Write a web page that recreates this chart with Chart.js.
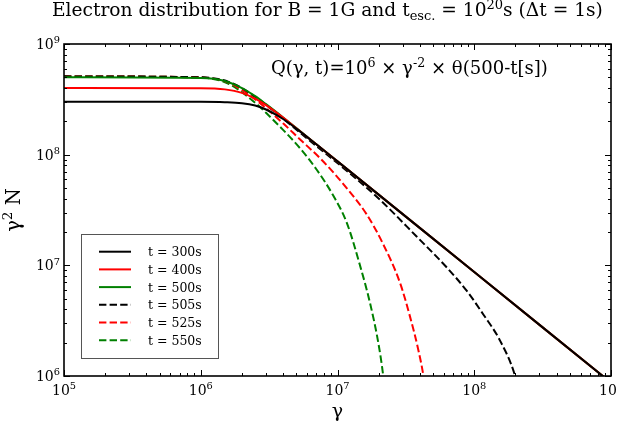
<!DOCTYPE html>
<html><head><meta charset="utf-8">
<script src="https://cdn.jsdelivr.net/npm/chart.js@4/dist/chart.umd.min.js"></script>
<style>html,body{margin:0;padding:0;background:#fff}canvas{display:block}</style>
</head><body>
<canvas id="c" width="617" height="423"></canvas>
<script>
// ---- data ----
const xTickExp = [5, 6, 7, 8, 9];
const yTickExp = [6, 7, 8, 9];
const seriesLabels = ['t = 300s', 't = 400s', 't = 500s', 't = 505s', 't = 525s', 't = 550s'];

const gammaSolid = [1e5, 1e6, 1.5e6, 2e6, 2.5e6, 3e6, 4e6, 5e6, 7e6, 1e7, 1e8, 1e9];
const n300 = [3.0e8, 3.0e8, 2.98e8, 2.92e8, 2.78e8, 2.56e8, 2.1e8, 1.72e8, 1.24e8, 8.7e7, 8.7e6, 8.7e5];
const n400 = [4.0e8, 3.98e8, 3.89e8, 3.62e8, 3.21e8, 2.8e8, 2.16e8, 1.73e8, 1.24e8, 8.7e7, 8.7e6, 8.7e5];
const n500 = [5.0e8, 4.93e8, 4.63e8, 4.0e8, 3.38e8, 2.86e8, 2.17e8, 1.74e8, 1.24e8, 8.7e7, 8.7e6, 8.7e5];

const gamma505 = [1e5, 1e6, 1.3e6, 1.6e6, 2e6, 2.5e6, 3e6, 4e6, 6e6, 1.23e7, 2.05e7, 3.79e7, 6.28e7, 8.8e7, 1.165e8, 1.54e8, 1.99e8, 2.1e8];
const n505 = [5.1e8, 5.0e8, 4.85e8, 4.55e8, 4.0e8, 3.33e8, 2.82e8, 2.12e8, 1.4e8, 6.79e7, 3.9e7, 1.82e7, 9.6e6, 5.9e6, 3.6e6, 2.1e6, 1.0e6, 7.5e5];

const gamma525 = [1e5, 1e6, 1.3e6, 1.6e6, 2e6, 2.5e6, 3e6, 4e6, 5.33e6, 7.45e6, 1.1e7, 1.63e7, 2.16e7, 2.87e7, 3.39e7, 3.9e7, 4.25e7, 4.45e7];
const n525 = [5.1e8, 4.99e8, 4.82e8, 4.48e8, 3.85e8, 3.16e8, 2.63e8, 1.92e8, 1.37e8, 9.3e7, 5.45e7, 2.9e7, 1.55e7, 6.9e6, 3.44e6, 1.72e6, 1.0e6, 6.5e5];

const gamma550 = [1e5, 1e6, 1.3e6, 1.6e6, 2e6, 2.5e6, 3e6, 4e6, 5.33e6, 7.05e6, 9.33e6, 1.17e7, 1.46e7, 1.73e7, 1.99e7, 2.16e7, 2.25e7];
const n550 = [5.1e8, 4.98e8, 4.77e8, 4.37e8, 3.67e8, 2.94e8, 2.39e8, 1.675e8, 1.14e8, 7.3e7, 4.25e7, 2.42e7, 1.0e7, 4.55e6, 1.98e6, 1.0e6, 6e5];

// ---- styling ----
const FONT = 'DejaVu Serif';
const colors = ['#000000', '#ff0000', '#008000', '#000000', '#ff0000', '#008000'];
const dashes = [[], [], [], [7.4, 3.2], [7.4, 3.2], [7.4, 3.2]];
const gammas = [gammaSolid, gammaSolid, gammaSolid, gamma505, gamma525, gamma550];
const values = [n300, n400, n500, n505, n525, n550];

function pts(g, v) { return g.map((x, i) => ({x: x, y: v[i]})); }

const datasets = seriesLabels.map((lab, i) => ({
  label: lab,
  data: pts(gammas[i], values[i]),
  borderColor: colors[i],
  borderWidth: 2,
  borderDash: dashes[i],
  pointRadius: 0,
  fill: false,
  cubicInterpolationMode: 'monotone',
  clip: 0
}));

function setFont(ctx, s) { ctx.font = s + 'px "' + FONT + '"'; }
function richWidth(ctx, parts, size) {
  let w = 0;
  for (const [t, m] of parts) { setFont(ctx, m ? size * 0.7 : size); w += ctx.measureText(t).width; }
  return w;
}
function drawRich(ctx, x, y, parts, size, align) {
  const w = richWidth(ctx, parts, size);
  let cx = align === 'center' ? x - w / 2 : align === 'right' ? x - w : x;
  ctx.textAlign = 'left';
  ctx.textBaseline = 'alphabetic';
  for (const [t, m] of parts) {
    const s = m ? size * 0.7 : size;
    setFont(ctx, s);
    const dy = m === 1 ? -size * 0.4 : m === -1 ? size * 0.2 : 0;
    ctx.fillText(t, cx, y + dy);
    cx += ctx.measureText(t).width;
  }
}
// choose a font size so a rich string spans a given width
function fitSize(ctx, parts, width) {
  return 20 * width / richWidth(ctx, parts, 20);
}

const titleParts = [['Electron distribution for B = 1G and t', 0], ['esc.', -1], [' = 10', 0], ['20', 1], ['s (\u0394t = 1s)', 0]];
const noteParts = [['Q(\u03b3, t)=10', 0], ['6', 1], [' \u00d7 \u03b3', 0], ['-2', 1], [' \u00d7 \u03b8(500-t[s])', 0]];

const decor = {
  id: 'decor',
  afterDraw(chart) {
    const {ctx, chartArea: a, scales: {x, y}} = chart;
    ctx.save();
    ctx.fillStyle = '#000';
    ctx.strokeStyle = '#000';
    function ln(x1, y1, x2, y2) { ctx.beginPath(); ctx.moveTo(x1, y1); ctx.lineTo(x2, y2); ctx.stroke(); }
    // ticks
    ctx.lineWidth = 1;
    for (let e = xTickExp[0]; e <= xTickExp[xTickExp.length - 1]; e++) {
      for (let m = 1; m <= 9; m++) {
        const v = m * Math.pow(10, e);
        if (v > Math.pow(10, xTickExp[xTickExp.length - 1])) break;
        const px = Math.round(x.getPixelForValue(v)) + 0.5;
        const len = m === 1 ? 6 : 3;
        ln(px, a.bottom, px, a.bottom - len);
        ln(px, a.top, px, a.top + len);
      }
    }
    for (let e = yTickExp[0]; e <= yTickExp[yTickExp.length - 1]; e++) {
      for (let m = 1; m <= 9; m++) {
        const v = m * Math.pow(10, e);
        if (v > Math.pow(10, yTickExp[yTickExp.length - 1])) break;
        const py = Math.round(y.getPixelForValue(v)) + 0.5;
        const len = m === 1 ? 6 : 3;
        ln(a.left, py, a.left + len, py);
        ln(a.right, py, a.right - len, py);
      }
    }
    // frame
    ctx.lineWidth = 1.6;
    ctx.strokeRect(a.left, a.top, a.right - a.left, a.bottom - a.top);
    // tick labels
    xTickExp.forEach(e => {
      drawRich(ctx, x.getPixelForValue(Math.pow(10, e)), 395, [['10', 0], [String(e), 1]], 14, 'center');
    });
    yTickExp.forEach(e => {
      drawRich(ctx, 60, y.getPixelForValue(Math.pow(10, e)) + 5, [['10', 0], [String(e), 1]], 14, 'right');
    });
    // title
    drawRich(ctx, 52, 16, titleParts, fitSize(ctx, titleParts, 551), 'left');
    // annotation
    drawRich(ctx, 271, 74, noteParts, fitSize(ctx, noteParts, 277), 'left');
    // axis titles
    drawRich(ctx, (a.left + a.right) / 2, 417, [['\u03b3', 0]], 19, 'center');
    ctx.save();
    ctx.translate(20, (a.top + a.bottom) / 2);
    ctx.rotate(-Math.PI / 2);
    drawRich(ctx, 0, 0, [['\u03b3', 0], ['2', 1], [' N', 0]], 19.5, 'center');
    ctx.restore();
    // legend
    const bx = 81, by = 234, bw = 137, bh = 124;
    ctx.fillStyle = '#fff';
    ctx.fillRect(bx, by, bw, bh);
    ctx.strokeStyle = '#555';
    ctx.lineWidth = 1;
    ctx.strokeRect(bx + 0.5, by + 0.5, bw, bh);
    seriesLabels.forEach((lab, i) => {
      const ry = 251.7 + i * 17.7;
      ctx.strokeStyle = colors[i];
      ctx.lineWidth = 2;
      ctx.setLineDash(dashes[i]);
      ln(99, ry, 131, ry);
      ctx.setLineDash([]);
      ctx.fillStyle = '#000';
      drawRich(ctx, 148, ry + 4.5, [[lab, 0]], 12.5, 'left');
    });
    ctx.restore();
  }
};

new Chart(document.getElementById('c'), {
  type: 'line',
  data: {datasets: datasets},
  options: {
    responsive: false,
    animation: false,
    devicePixelRatio: 1,
    layout: {padding: {left: 64, top: 44, right: 6, bottom: 47}},
    plugins: {legend: {display: false}, tooltip: {enabled: false}, title: {display: false}},
    scales: {
      x: {type: 'logarithmic', min: 1e5, max: 1e9, display: false},
      y: {type: 'logarithmic', min: 1e6, max: 1e9, display: false}
    }
  },
  plugins: [decor]
});
</script>
</body></html>
